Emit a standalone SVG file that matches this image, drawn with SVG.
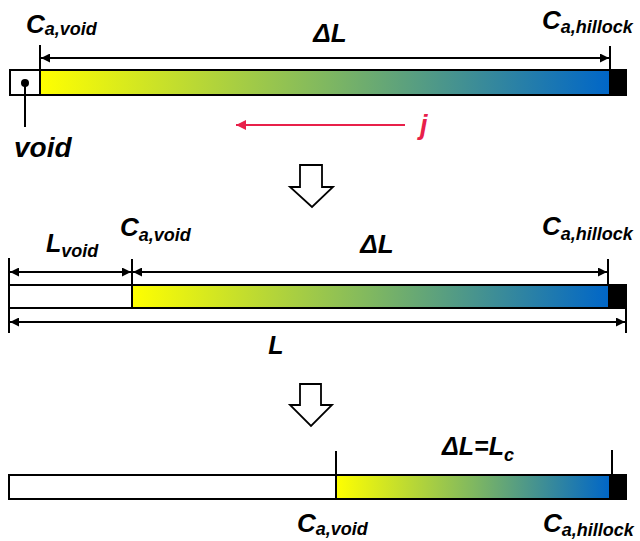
<svg xmlns="http://www.w3.org/2000/svg" width="640" height="541" viewBox="0 0 640 541">
<style>
.t{font-family:"Liberation Sans",Arial,sans-serif;font-weight:bold;font-style:italic;fill:#000}
.big{font-size:26px}
.sub{font-size:18px}
.ln{stroke:#000;stroke-width:2;fill:none}
.bar{stroke:#000;stroke-width:2}
.hollow{fill:#fff;stroke:#000;stroke-width:1.8;stroke-linejoin:miter}
</style>
<defs>
<linearGradient id="g" x1="0" y1="0" x2="1" y2="0">
<stop offset="0" stop-color="#ffff00"/>
<stop offset="0.5" stop-color="#80b860"/>
<stop offset="1" stop-color="#0066c8"/>
</linearGradient>
<marker id="ah" viewBox="0 0 10 10" refX="10" refY="5" markerWidth="9" markerHeight="9" markerUnits="userSpaceOnUse" orient="auto-start-reverse">
<path d="M0,0 L10,5 L0,10 z" fill="#000"/>
</marker>
<marker id="ahr" viewBox="0 0 10 10" refX="10" refY="5" markerWidth="10" markerHeight="10" markerUnits="userSpaceOnUse" orient="auto-start-reverse">
<path d="M0,0 L10,5 L0,10 z" fill="#e8204a"/>
</marker>
</defs>

<!-- Panel 1 -->
<g id="panel1">
<rect class="bar" x="10" y="70" width="30" height="25" fill="#fff"/>
<rect class="bar" x="40" y="70" width="570" height="25" fill="url(#g)"/>
<rect class="bar" x="610" y="70" width="16" height="25" fill="#000"/>
<circle cx="25" cy="83" r="4" fill="#000"/>
<line class="ln" x1="25" y1="83" x2="25" y2="127"/>
<text class="t" x="14" y="157" font-size="28">void</text>
<text class="t big" x="26" y="33">C<tspan class="sub" dy="2">a,void</tspan></text>
<text class="t big" x="542" y="29">C<tspan class="sub" dy="4">a,hillock</tspan></text>
<text class="t big" x="330" y="42" text-anchor="middle">ΔL</text>
</g>

<!-- Panel 2 -->
<g id="panel2">
<rect class="bar" x="9" y="285" width="123" height="23" fill="#fff"/>
<rect class="bar" x="132" y="285" width="477" height="23" fill="url(#g)"/>
<rect class="bar" x="609" y="285" width="17" height="23" fill="#000"/>
<text class="t" x="46" y="252" font-size="25">L<tspan class="sub" dy="5">void</tspan></text>
<text class="t big" x="120" y="236">C<tspan class="sub" dy="5">a,void</tspan></text>
<text class="t big" x="542" y="235">C<tspan class="sub" dy="5">a,hillock</tspan></text>
<text class="t big" x="377" y="253" text-anchor="middle">ΔL</text>
<text class="t" x="276" y="354" font-size="25" text-anchor="middle">L</text>
</g>

<!-- Panel 3 -->
<g id="panel3">
<rect class="bar" x="9" y="475" width="327" height="24" fill="#fff"/>
<rect class="bar" x="336" y="475" width="274" height="24" fill="url(#g)"/>
<rect class="bar" x="610" y="475" width="16" height="24" fill="#000"/>
<text class="t big" x="297" y="532">C<tspan class="sub" dy="3">a,void</tspan></text>
<text class="t big" x="543" y="532">C<tspan class="sub" dy="4">a,hillock</tspan></text>
<text class="t" x="442" y="455" font-size="25">ΔL=L<tspan class="sub" dy="6">c</tspan></text>
</g>

<!-- Transition arrows -->
<g id="step-arrow-1">
<path class="hollow" d="M300,165 H322 V187 H333 L312,207 L290,187 H300 Z"/>
</g>
<g id="step-arrow-2">
<path class="hollow" d="M300,384 H321 V405 H332 L311,426 L290,405 H300 Z"/>
</g>

<!-- Current flow -->
<g id="current">
<line x1="405" y1="125" x2="236" y2="125" stroke="#e8204a" stroke-width="2" marker-end="url(#ahr)"/>
<text class="t" x="420" y="134" font-size="27" style="fill:#e8204a">j</text>
</g>

<!-- Connectors / dimension lines -->
<g id="connectors">
<!-- panel 1 -->
<line class="ln" x1="40" y1="45" x2="40" y2="70"/>
<line class="ln" x1="610" y1="46" x2="610" y2="70"/>
<line class="ln" x1="41" y1="58" x2="609" y2="58" marker-start="url(#ah)" marker-end="url(#ah)"/>
<!-- panel 2 -->
<line class="ln" x1="9" y1="258" x2="9" y2="333"/>
<line class="ln" x1="132" y1="259" x2="132" y2="285"/>
<line class="ln" x1="608" y1="259" x2="608" y2="285"/>
<line class="ln" x1="626" y1="285" x2="626" y2="333"/>
<line class="ln" x1="10" y1="272" x2="131" y2="272" marker-start="url(#ah)" marker-end="url(#ah)"/>
<line class="ln" x1="133" y1="272" x2="607" y2="272" marker-start="url(#ah)" marker-end="url(#ah)"/>
<line class="ln" x1="10" y1="322" x2="625" y2="322" marker-start="url(#ah)" marker-end="url(#ah)"/>
<!-- panel 3 -->
<line class="ln" x1="336" y1="451" x2="336" y2="475"/>
<line class="ln" x1="612" y1="450" x2="612" y2="475"/>
</g>
</svg>
